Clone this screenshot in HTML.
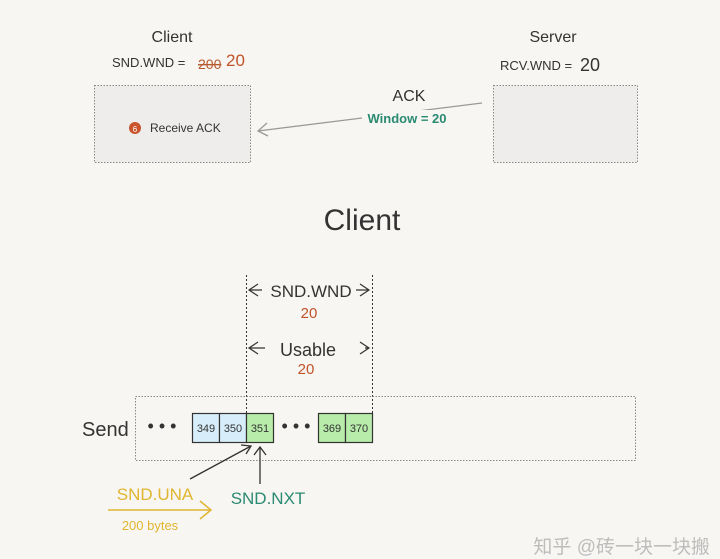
<!DOCTYPE html>
<html><head><meta charset="utf-8"><style>
html,body{margin:0;padding:0;background:#f8f6f2;}
svg{display:block;}
text{font-family:"Liberation Sans","Noto Sans CJK SC",sans-serif;}
</style></head><body>
<svg width="720" height="559" viewBox="0 0 720 559" xmlns="http://www.w3.org/2000/svg">
<rect width="720" height="559" fill="#f8f6f2"/>
<text x="172" y="42" font-size="16" text-anchor="middle" fill="#333">Client</text>
<text x="112" y="67" font-size="13" fill="#333">SND.WND =</text>
<text x="198" y="69" font-size="14" fill="#b85a30" text-decoration="line-through">200</text>
<text x="226" y="66" font-size="17" fill="#c0532a">20</text>
<text x="553" y="42" font-size="16" text-anchor="middle" fill="#333">Server</text>
<text x="500" y="70" font-size="13" fill="#333">RCV.WND =</text>
<text x="580" y="71" font-size="18" fill="#333">20</text>
<rect x="94.5" y="85.5" width="156" height="77" fill="#eeedec" stroke="#888" stroke-dasharray="1.5,1.5"/>
<rect x="493.5" y="85.5" width="144" height="77" fill="#eeedec" stroke="#888" stroke-dasharray="1.5,1.5"/>
<circle cx="135" cy="128" r="6" fill="#c9542e"/>
<text x="135" y="132" font-size="8" fill="#fff" text-anchor="middle">6</text>
<text x="150" y="132" font-size="12" fill="#333">Receive ACK</text>
<line x1="482" y1="103" x2="258" y2="131" stroke="#999" stroke-width="1.3"/>
<polyline points="267,123 258,131 268,136" fill="none" stroke="#999" stroke-width="1.3"/>
<text x="409" y="101" font-size="16" text-anchor="middle" fill="#333">ACK</text>
<rect x="362" y="110" width="90" height="16" fill="#f8f6f2"/>
<text x="407" y="123" font-size="13" text-anchor="middle" fill="#2a8a72" font-weight="bold">Window = 20</text>
<text x="362" y="230" font-size="30" text-anchor="middle" fill="#333">Client</text>
<line x1="246.5" y1="275" x2="246.5" y2="413" stroke="#333" stroke-dasharray="2,2"/>
<line x1="372.5" y1="275" x2="372.5" y2="413" stroke="#333" stroke-dasharray="2,2"/>
<text x="311" y="297" font-size="17" text-anchor="middle" fill="#333">SND.WND</text>
<path d="M258 284 L249 290 L258 296 M249 290 L262 290" fill="none" stroke="#333" stroke-width="1.2"/>
<path d="M360 284 L369 290 L360 296 M369 290 L356 290" fill="none" stroke="#333" stroke-width="1.2"/>
<text x="309" y="318" font-size="15" text-anchor="middle" fill="#c0532a">20</text>
<text x="308" y="356" font-size="18" text-anchor="middle" fill="#333">Usable</text>
<path d="M258 342 L249 348 L258 354 M249 348 L265 348" fill="none" stroke="#333" stroke-width="1.2"/>
<path d="M360 342 L369 348 L360 354 M369 348 L365 348" fill="none" stroke="#333" stroke-width="1.2"/>
<text x="306" y="374" font-size="15" text-anchor="middle" fill="#c0532a">20</text>
<rect x="135.5" y="396.5" width="500" height="64" fill="none" stroke="#888" stroke-dasharray="1.5,1.5"/>
<text x="82" y="436" font-size="20" fill="#333">Send</text>
<text x="162" y="432" font-size="18" text-anchor="middle" fill="#333">• • •</text>
<text x="296" y="432" font-size="18" text-anchor="middle" fill="#333">• • •</text>
<g stroke="#333" stroke-width="1.2">
<rect x="192.5" y="413.5" width="27" height="29" fill="#d7eefa"/>
<rect x="219.5" y="413.5" width="27" height="29" fill="#d7eefa"/>
<rect x="246.5" y="413.5" width="27" height="29" fill="#b8ecaa"/>
<rect x="318.5" y="413.5" width="27" height="29" fill="#b8ecaa"/>
<rect x="345.5" y="413.5" width="27" height="29" fill="#b8ecaa"/>
</g>
<g font-size="11" text-anchor="middle" fill="#333">
<text x="206" y="432">349</text><text x="233" y="432">350</text><text x="260" y="432">351</text>
<text x="332" y="432">369</text><text x="359" y="432">370</text>
</g>
<line x1="190" y1="479" x2="251" y2="446" stroke="#333" stroke-width="1.3"/>
<polyline points="241,445 251,446 246,454" fill="none" stroke="#333" stroke-width="1.3"/>
<line x1="260" y1="484" x2="260" y2="447" stroke="#333" stroke-width="1.3"/>
<polyline points="254,455 260,447 266,455" fill="none" stroke="#333" stroke-width="1.3"/>
<text x="155" y="500" font-size="17" text-anchor="middle" fill="#e0b530">SND.UNA</text>
<line x1="108" y1="510" x2="210" y2="510" stroke="#e0b530" stroke-width="1.5"/>
<polyline points="200,501 211,510 200,519" fill="none" stroke="#e0b530" stroke-width="1.5"/>
<text x="150" y="530" font-size="13" text-anchor="middle" fill="#e0b530">200 bytes</text>
<text x="268" y="504" font-size="17" text-anchor="middle" fill="#2a8a72">SND.NXT</text>
<text x="710" y="553" font-size="19" text-anchor="end" fill="#bdbdbd">知乎 @砖一块一块搬</text>
</svg>
</body></html>
